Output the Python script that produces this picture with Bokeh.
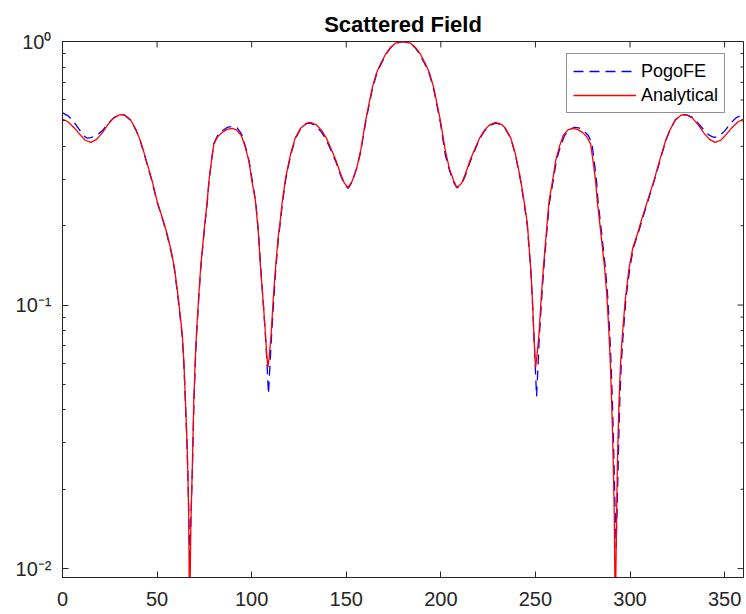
from bokeh.plotting import figure
from bokeh.models import (FixedTicker, Range1d, Legend, LegendItem)
from bokeh.embed import file_html
from bokeh.resources import INLINE

# ---------------- data ----------------
angle_analytical = [0, 3, 6, 9, 12, 15, 18, 21, 24, 27, 30, 31.5, 33, 36, 39, 41.2, 44, 47.4,
    50, 53, 55.3, 57.5, 59.2, 61.3, 63.3, 64.2, 65, 65.7, 66.2, 66.7, 67.2, 67.8, 68.6,
    69.4, 70.1, 70.8, 72, 73, 74.8, 76.5, 77.4, 78.7, 80, 82, 84.4, 87, 89.7, 92, 94.5,
    96.5, 98.5, 100, 102, 103.5, 104.7, 106, 107.3, 108, 108.6, 109.3, 110.3, 111.4,
    112.6, 114, 115.3, 116.2, 118, 120.6, 123, 126, 129, 131, 134, 137, 139.5, 141.7,
    144.5, 147, 149, 151, 153.2, 155.5, 157.6, 160.2, 162, 163.8, 166, 168, 171, 173.5,
    176, 180, 184, 186.5, 189, 192, 194, 196.2, 198, 199.8, 202.4, 204.5, 206.8, 208.5,
    211, 213, 215.5, 218.3, 220.5, 223, 226, 229, 232, 234, 237, 239.4, 242, 244, 245.7,
    247.5, 248.4, 249.2, 249.7, 250.1, 250.8, 251.9, 253, 254.2, 255.8, 257.2, 259.2,
    260.7, 262.7, 264.7, 267.2, 269.5, 272.2, 274.8, 277.2, 279.2, 280.5, 281.8, 282.7,
    284.5, 286.6, 287.8, 288.9, 289.6, 290.3, 290.8, 291.2, 291.7, 292.2, 292.8, 293.3,
    293.7, 294.2, 295, 296, 297.5, 299.5, 301.5, 303.9, 306.5, 309.2, 312.6, 316, 318.8,
    321, 324, 327, 328.6, 330, 333, 336, 339, 342, 345, 348, 351, 354, 357, 360]
field_analytical = [0.508, 0.495, 0.472, 0.445, 0.422, 0.414, 0.425, 0.45, 0.484, 0.512,
    0.527, 0.528, 0.525, 0.505, 0.46, 0.42, 0.36, 0.296,
    0.248, 0.212, 0.186, 0.16, 0.138, 0.105, 0.0776, 0.06, 0.043, 0.032, 0.024, 0.016,
    0.006, 0.014, 0.024,
    0.043, 0.06, 0.0776, 0.108, 0.138, 0.19, 0.248, 0.296, 0.35, 0.408, 0.435, 0.452,
    0.464, 0.468, 0.462, 0.44,
    0.40, 0.353, 0.30, 0.248, 0.19, 0.138, 0.105, 0.0776, 0.064, 0.058, 0.064, 0.0776,
    0.105,
    0.138, 0.18, 0.215, 0.248, 0.305, 0.375, 0.43, 0.47, 0.49, 0.493, 0.484, 0.46, 0.43,
    0.396,
    0.355, 0.315, 0.29, 0.279, 0.296, 0.33, 0.385, 0.50, 0.58, 0.67, 0.76, 0.82, 0.90,
    0.951,
    0.985, 1.0, 0.985, 0.951, 0.90, 0.82, 0.76, 0.67, 0.58, 0.50, 0.385, 0.33, 0.296,
    0.279,
    0.29, 0.315, 0.355, 0.396, 0.43, 0.46, 0.484, 0.493, 0.485, 0.47, 0.43, 0.375, 0.305,
    0.248, 0.205,
    0.138, 0.105, 0.0776, 0.064, 0.058, 0.064, 0.0776, 0.105, 0.138, 0.19, 0.248, 0.30,
    0.353, 0.40, 0.44, 0.462, 0.468, 0.464, 0.452, 0.435, 0.408, 0.35, 0.296, 0.248,
    0.19, 0.138, 0.108, 0.0776, 0.06, 0.043, 0.032, 0.024, 0.016, 0.006, 0.014, 0.024,
    0.032, 0.043, 0.06, 0.0776, 0.105, 0.138, 0.165, 0.186, 0.215, 0.248, 0.296, 0.36,
    0.42,
    0.46, 0.505, 0.525, 0.528, 0.526, 0.512, 0.484, 0.45, 0.425, 0.414, 0.422, 0.445,
    0.472, 0.495, 0.508]

angle_pogofe = [0, 3, 6, 9, 11, 13, 15, 18, 21, 24, 27, 30, 31.5, 33, 36, 39, 41.2, 44,
    47.4, 50, 53, 55.3, 57.5, 59.2, 61.3, 63.3, 64.2, 65, 65.7, 66.2, 66.7, 67.3, 67.9,
    68.7, 69.5, 70.2, 70.9, 72.1, 73.1, 74.9, 76.6, 77.5, 78.7, 80, 82, 84.4, 87, 90,
    92.3, 94.7, 96.7, 98.7, 100.2, 102.2, 103.7, 104.9, 106.2, 107.4, 108.2, 108.9,
    109.5, 110.4, 111.5, 112.7, 114.1, 115.4, 116.3, 118.1, 120.7, 123.1, 126, 129, 131,
    134, 137, 139.5, 141.7, 144.5, 147, 149, 151, 153.2, 155.5, 157.6, 160.2, 162, 163.8,
    166, 168, 171, 173.5, 176, 180, 184, 186.5, 189, 192, 194, 196.2, 198, 199.8, 202.4,
    204.5, 206.8, 208.5, 211, 213, 215.5, 218.3, 220.5, 223, 226, 229, 232, 234, 237,
    239.4, 242, 244, 245.7, 247.6, 248.5, 249.3, 250, 250.6, 251.2, 252, 253.1, 254.3,
    255.9, 257.4, 259.5, 261.1, 263.2, 265.4, 268, 270.5, 273, 275.6, 278, 279.9, 281.1,
    282.3, 283.1, 284.9, 287, 288.2, 289.3, 290, 290.7, 291.2, 291.6, 292.1, 292.7,
    293.2, 293.7, 294.1, 294.6, 295.4, 296.4, 297.8, 299.9, 301.8, 304.2, 306.8, 309.5,
    312.8, 316.2, 318.9, 321.1, 324, 327, 328.6, 330, 333, 336, 339, 342, 344.4, 347,
    350, 353, 356, 360]
field_pogofe = [0.536, 0.522, 0.495, 0.462, 0.44, 0.43, 0.432, 0.44, 0.458, 0.487, 0.513,
    0.527, 0.528, 0.524, 0.503, 0.458, 0.418, 0.357,
    0.293, 0.246, 0.21, 0.184, 0.158, 0.136, 0.103, 0.076, 0.059, 0.042, 0.031, 0.024,
    0.017, 0.0105, 0.016,
    0.024, 0.043, 0.06, 0.0776, 0.108, 0.138, 0.19, 0.248, 0.296, 0.35, 0.41, 0.44,
    0.458, 0.472, 0.477,
    0.47, 0.445, 0.40, 0.35, 0.30, 0.245, 0.185, 0.135, 0.10, 0.074, 0.058, 0.046,
    0.056, 0.074, 0.10, 0.135, 0.178, 0.213, 0.245, 0.303, 0.372, 0.428, 0.468, 0.488,
    0.49,
    0.478, 0.452, 0.422, 0.39, 0.35, 0.311, 0.287, 0.277, 0.294, 0.33, 0.38, 0.49, 0.57,
    0.66,
    0.75, 0.81, 0.895, 0.948, 0.983, 0.998, 0.983, 0.945, 0.89, 0.81, 0.75, 0.66, 0.57,
    0.49,
    0.37, 0.325, 0.292, 0.278, 0.288, 0.31, 0.35, 0.392, 0.427, 0.457, 0.48, 0.49, 0.483,
    0.468, 0.428,
    0.372, 0.30, 0.244, 0.20, 0.134, 0.10, 0.074, 0.057, 0.045, 0.055, 0.074, 0.10,
    0.134,
    0.185, 0.244, 0.30, 0.353, 0.40, 0.44, 0.462, 0.472, 0.47, 0.458, 0.44, 0.41, 0.35,
    0.296, 0.248, 0.19, 0.138, 0.108, 0.0776, 0.06, 0.043, 0.032, 0.024, 0.017, 0.012,
    0.017, 0.024, 0.032, 0.043, 0.06, 0.0776, 0.105, 0.138, 0.165, 0.186, 0.215, 0.248,
    0.296, 0.36, 0.42, 0.46, 0.505, 0.525, 0.528, 0.527, 0.515, 0.49, 0.462, 0.44, 0.433,
    0.437, 0.457, 0.487, 0.513, 0.53]

x_ticks = [0, 50, 100, 150, 200, 250, 300, 350]
y_ticks = [0.01, 0.1, 1.0]
y_tick_labels = ["10\u207b\u00b2", "10\u207b\u00b9", "10\u2070"]
y_minor_ticks = [0.02, 0.03, 0.04, 0.05, 0.06, 0.07, 0.08, 0.09,
                 0.2, 0.3, 0.4, 0.5, 0.6, 0.7, 0.8, 0.9]

X_MIN, X_MAX = 0, 360
Y_MIN, Y_MAX = 0.00925, 1.0

AX = "#262626"
FONT = "Liberation Sans"

p = figure(width=746, height=614, x_range=Range1d(X_MIN, X_MAX),
           y_range=Range1d(Y_MIN, Y_MAX),
           y_axis_type="log", output_backend="svg", toolbar_location=None,
           title="Scattered Field", min_border_left=62, min_border_right=3,
           min_border_top=41, min_border_bottom=37)
p.background_fill_color = "white"
p.border_fill_color = "white"
p.outline_line_color = AX
p.outline_line_width = 1
p.xgrid.visible = False
p.ygrid.visible = False

p.title.text_font = FONT
p.title.text_font_size = "22px"
p.title.text_font_style = "bold"
p.title.text_color = "#000000"
p.title.align = "center"
p.title.standoff = 10

def style_axis(ax):
    ax.axis_line_color = AX
    ax.major_tick_line_color = AX
    ax.minor_tick_line_color = AX
    ax.major_tick_in = 6
    ax.major_tick_out = 0
    ax.minor_tick_in = 3
    ax.minor_tick_out = 0
    ax.major_label_text_font = FONT
    ax.major_label_text_color = AX
    ax.major_label_text_font_size = "20px"
    ax.major_label_standoff = 11

xa = p.xaxis[0]
xa.ticker = FixedTicker(ticks=x_ticks, minor_ticks=[])
style_axis(xa)
xa.major_label_standoff = 14

ya = p.yaxis[0]
ya.ticker = FixedTicker(ticks=y_ticks, minor_ticks=y_minor_ticks)
ya.major_label_overrides = dict(zip(y_ticks, y_tick_labels))
style_axis(ya)

# inward ticks on the top and right edges of the box (clipped to the frame)
p.scatter(x=x_ticks, y=[Y_MAX] * len(x_ticks), marker="dash", size=12,
          angle=1.5708, line_color=AX, line_width=1)
p.scatter(x=[X_MAX] * len(y_ticks), y=y_ticks, marker="dash", size=12,
          line_color=AX, line_width=1)
p.scatter(x=[X_MAX] * len(y_minor_ticks), y=y_minor_ticks, marker="dash", size=6,
          line_color=AX, line_width=1)

rb = p.line(angle_pogofe, field_pogofe, line_color="#0000FF", line_width=1.3,
            line_dash="10 6")
rr = p.line(angle_analytical, field_analytical, line_color="#FF0000", line_width=1.3)

legend = Legend(items=[LegendItem(label="PogoFE", renderers=[rb]),
                       LegendItem(label="Analytical", renderers=[rr])],
                location=(504, 464))
legend.label_text_font = FONT
legend.label_text_font_size = "18px"
legend.label_text_color = "#000000"
legend.border_line_color = AX
legend.border_line_width = 1
legend.background_fill_color = "white"
legend.background_fill_alpha = 1
legend.padding = 6
legend.spacing = 2
legend.margin = 0
legend.glyph_width = 63
legend.glyph_height = 22
legend.label_height = 22
legend.label_standoff = 5
p.add_layout(legend)

open("out.html", "w").write(file_html(p, INLINE))
